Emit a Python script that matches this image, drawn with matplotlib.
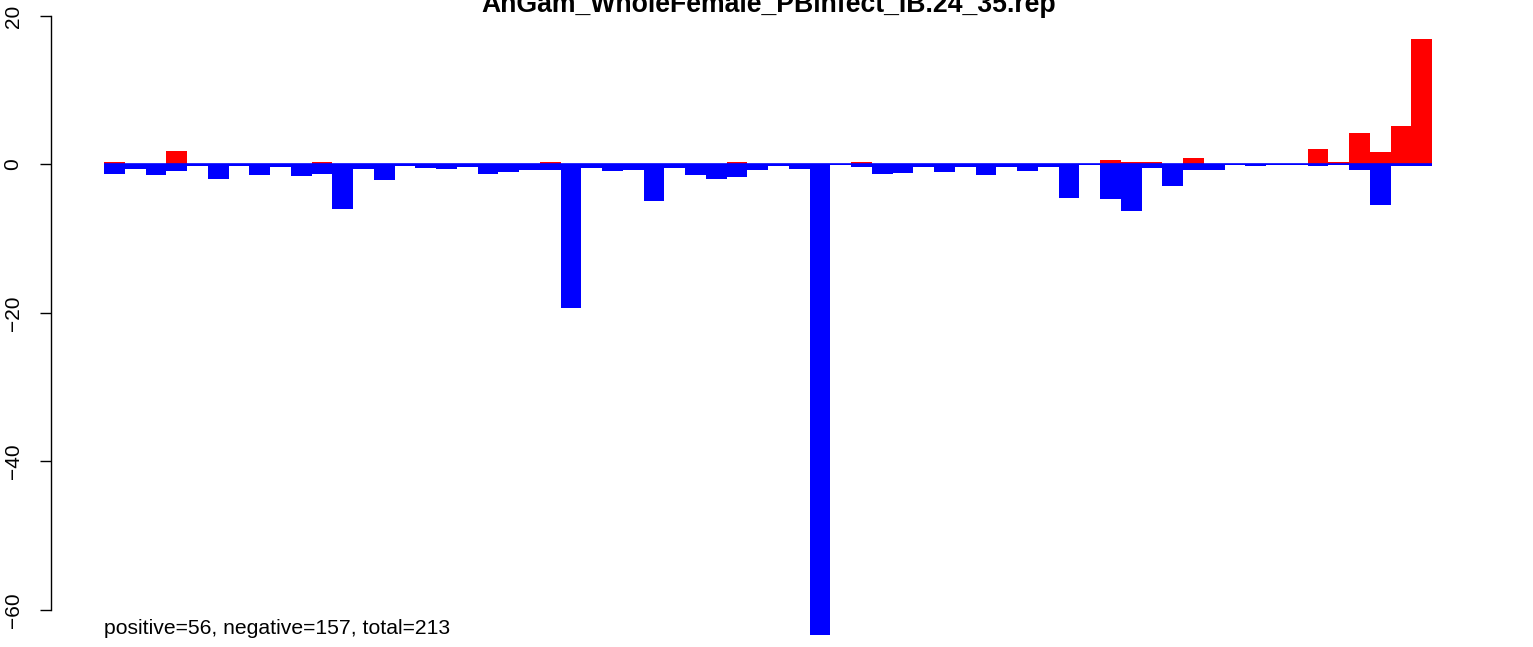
import matplotlib
matplotlib.use("Agg")
import matplotlib.pyplot as plt
import numpy as np

plt.rcParams['font.family'] = ['Liberation Sans', 'DejaVu Sans']

title = "AnGam_WholeFemale_PBinfect_IB.24_35.rep"
note = "positive=56, negative=157, total=213"

# per-bin positive (red) and negative (blue) sums, 64 bins
pos_vals = [0.27, 0.13, 0.13, 1.88, 0, 0, 0.13, 0, 0, 0,
            0.27, 0.13, 0, 0, 0, 0, 0, 0, 0, 0,
            0, 0.27, 0, 0.13, 0, 0, 0.13, 0, 0, 0.13,
            0.27, 0.13, 0, 0, 0, 0, 0.27, 0, 0, 0,
            0, 0.13, 0, 0, 0, 0, 0, 0, 0.54, 0.40,
            0.27, 0, 0.81, 0, 0, 0, 0, 0, 2.15, 0.40,
            4.3, 1.75, 5.25, 16.96]
neg_vals = [-1.3, -0.63, -1.44, -0.9, -0.2, -1.97, -0.2, -1.44, -0.36, -1.57,
            -1.3, -6.0, -0.63, -2.1, -0.2, -0.5, -0.63, -0.36, -1.3, -1.03,
            -0.77, -0.77, -19.3, -0.5, -0.9, -0.77, -4.94, -0.5, -1.44, -1.97,
            -1.7, -0.77, -0.2, -0.63, -63.3, -0.1, -0.36, -1.3, -1.17, -0.36,
            -1.03, -0.36, -1.44, -0.36, -0.9, -0.36, -4.53, -0.1, -4.67, -6.28,
            -0.5, -2.9, -0.77, -0.77, -0.1, -0.2, -0.1, -0.1, -0.2, -0.1,
            -0.77, -5.48, -0.2, -0.2]
yticks = [-60, -40, -20, 0, 20]

W, H = 1533, 647
fig = plt.figure(figsize=(W / 100, H / 100), dpi=100)

# pixel geometry of the plot region
px_left, px_right = 51, 1480
px_top, px_bot = 10, 640
bin0_px, bin_w = 104, 20.75
zero_px, unit_px = 164.5, 7.425

ax = fig.add_axes([px_left / W, 1 - px_bot / H, (px_right - px_left) / W, (px_bot - px_top) / H])

x = np.arange(len(pos_vals))
ax.bar(x, pos_vals, width=1, align='edge', color='#FF0000', linewidth=0)
ax.bar(x, neg_vals, width=1, align='edge', color='#0000FF', linewidth=0)
ax.hlines(0, 0, len(pos_vals), color='#0000FF', linewidth=1.2)

ax.set_xlim((px_left - bin0_px) / bin_w, (px_right - bin0_px) / bin_w)
ax.set_ylim((zero_px - px_bot) / unit_px, (zero_px - px_top) / unit_px)

for s in ['top', 'right', 'bottom']:
    ax.spines[s].set_visible(False)
ax.spines['left'].set_bounds(-60, 20)
ax.spines['left'].set_linewidth(1.0)
ax.set_xticks([])
ax.set_yticks(yticks)
ax.set_yticklabels([str(v).replace('-', '\u2212') for v in yticks], rotation=90, va='center', fontsize=15)
ax.tick_params(axis='y', length=8, width=1.0, pad=12.5)

ax.text(0, (zero_px - 629) / unit_px, note, fontsize=15.2, ha='left', va='center')
fig.text(768.5 / W, 1 - 12 / H, title, fontsize=19.2, fontweight='bold', ha='center', va='baseline')

fig.savefig('out.png', dpi=100)
